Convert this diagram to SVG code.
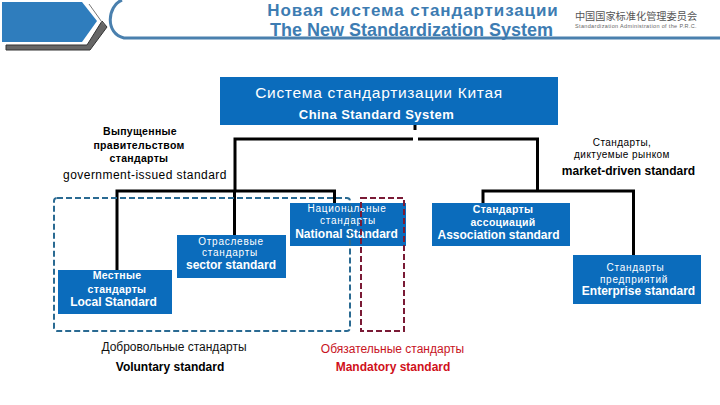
<svg xmlns="http://www.w3.org/2000/svg" width="720" height="405" viewBox="0 0 720 405">
<style>
text{font-family:"Liberation Sans",Arial,sans-serif;text-anchor:middle}
.box{fill:#0b6cbc}
.w{fill:#fff;font-size:10px;letter-spacing:.75px}
.wb{fill:#fff;font-size:12px;font-weight:700}
.wbs{fill:#fff;font-size:10.5px;font-weight:700;letter-spacing:.3px}
.g{fill:#000;font-size:10.5px;font-weight:700;letter-spacing:.3px}
.m{fill:#000;font-size:10px;letter-spacing:.45px}
.ln{fill:none;stroke:#000;stroke-width:3}
.title{fill:#3d7cb2;font-weight:700}
</style>
<g id="header">
<polygon points="2,2 82,2 97,21 82,42 2,42" fill="#2f7dbd"/>
<polygon points="6,45 6,50 90,50 107,27 102,21 87,45" fill="#666" stroke="#333" stroke-width="1"/>
<line x1="89" y1="4" x2="104" y2="25" stroke="#777" stroke-width="1"/>
<path d="M122,0 C107,6 105,34 124,38 H720" fill="none" stroke="#4a80ae" stroke-width="3"/>
<text class="title" x="413" y="15.500" font-size="17" letter-spacing=".9">Новая система стандартизации</text>
<text class="title" x="411.500" y="36" font-size="18">The New Standardization System</text>
</g>
<g id="logo">
<text x="636" y="20" font-size="10.200" fill="#555" style="font-family:'Noto Sans CJK SC',sans-serif">中国国家标准化管理委员会</text>
<text x="636" y="28" font-size="5.500" fill="#666" letter-spacing=".35">Standardization Administration of the P.R.C.</text>
</g>
<g id="connectors">
<path class="ln" d="M415,125 V130"/>
<path class="ln" d="M235,191 V139 H413 M418,139 H537.500 V191"/>
<path class="ln" d="M117,271 V191 H334.500 V203 M234.500,191 V235"/>
<path class="ln" d="M483,203 V191 H633.500 V255"/>
</g>
<g id="system"><rect class="box" x="220" y="77" width="338" height="48"/>
<text x="379" y="98" fill="#fff" font-size="15.500" letter-spacing=".7">Система стандартизации Китая</text>
<text x="376.500" y="119" fill="#fff" font-size="13" font-weight="700" letter-spacing=".45">China Standard System</text></g>
<g id="gov-label">
<text class="g" x="140" y="135">Выпущенные</text>
<text class="g" x="139" y="149">правительством</text>
<text class="g" x="139" y="162">стандарты</text>
<text x="145" y="179" fill="#000" font-size="12" letter-spacing=".45">government-issued standard</text>
</g>
<g id="market-label">
<text class="m" x="622" y="146">Стандарты,</text>
<text class="m" x="622" y="158">диктуемые рынком</text>
<text x="628.500" y="175" fill="#000" font-size="12" font-weight="700">market-driven standard</text>
</g>
<g id="national"><rect class="box" x="290" y="203" width="116" height="43"/>
<text class="w" x="347" y="212">Национальные</text>
<text class="w" x="348" y="224">стандарты</text>
<text class="wb" x="346.500" y="238">National Standard</text></g>
<g id="association"><rect class="box" x="432" y="203" width="138" height="43"/>
<text class="wbs" x="503" y="213">Стандарты</text>
<text class="wbs" x="503" y="226">ассоциаций</text>
<text class="wb" x="498.500" y="238.500">Association standard</text></g>
<g id="sector"><rect class="box" x="177" y="235" width="109" height="43"/>
<text class="w" x="231" y="245">Отраслевые</text>
<text class="w" x="230" y="255.500">стандарты</text>
<text class="wb" x="231" y="268.500">sector standard</text></g>
<g id="local"><rect class="box" x="58" y="270" width="114" height="44"/>
<text class="wbs" x="117" y="279">Местные</text>
<text class="wbs" x="117" y="293">стандарты</text>
<text class="wb" x="113.500" y="306">Local Standard</text></g>
<g id="enterprise"><rect class="box" x="573" y="255" width="128" height="49"/>
<text class="w" x="635.500" y="271">Стандарты</text>
<text class="w" x="634" y="283">предприятий</text>
<text class="wb" x="638.500" y="295">Enterprise standard</text></g>
<g id="voluntary-group">
<rect x="54" y="198" width="296" height="133" rx="3" fill="none" stroke="#2a6a92" stroke-width="2" stroke-dasharray="6 3"/>
<text x="174" y="351" font-size="12" fill="#111">Добровольные стандарты</text>
<text x="170" y="371" font-size="12" font-weight="700" fill="#000">Voluntary standard</text>
</g>
<g id="mandatory-group">
<rect x="361" y="198" width="43" height="133" fill="none" stroke="#7a1a35" stroke-width="2" stroke-dasharray="6 3"/>
<text x="392.500" y="353" font-size="12" fill="#c8141e">Обязательные стандарты</text>
<text x="393" y="371" font-size="12" font-weight="700" fill="#d0101a">Mandatory standard</text>
</g>
</svg>
